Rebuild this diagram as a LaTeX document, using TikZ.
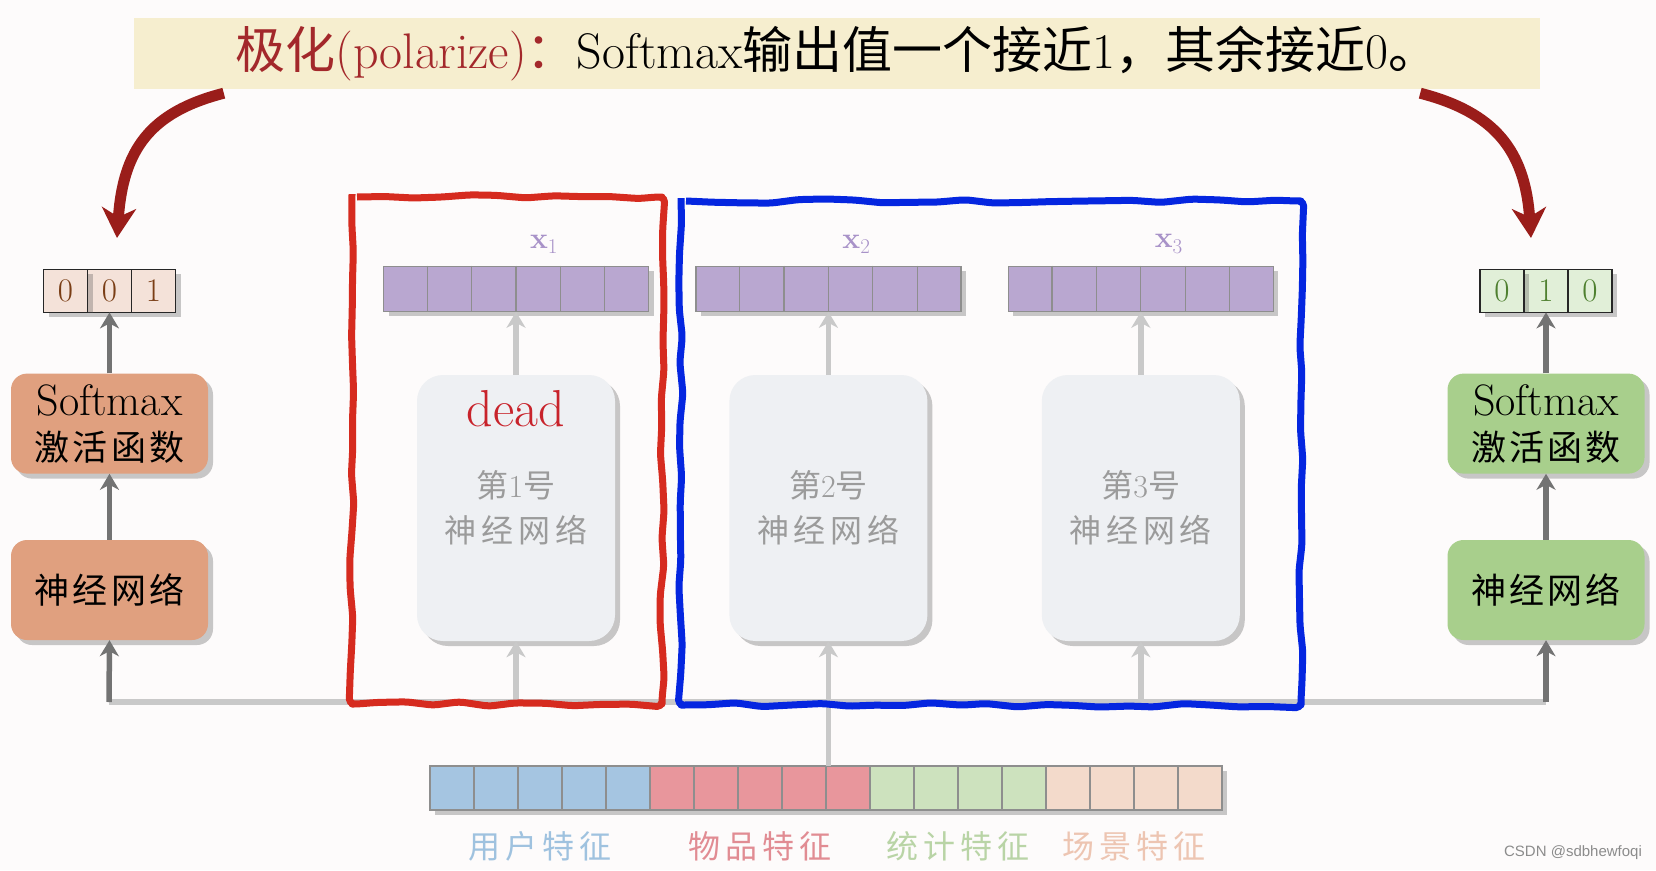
\documentclass[tikz,border=0pt]{standalone}
\usepackage{fontspec}
\usepackage{xcolor}
\usepackage{tikz}
\usetikzlibrary{positioning,arrows.meta,calc,shadows,decorations.pathmorphing}
\newfontfamily\cjk{Noto Sans CJK SC}
\newfontfamily\cjkw[LetterSpace=15]{Noto Sans CJK SC}
\newfontfamily\cjkn[LetterSpace=9]{Noto Sans CJK SC}
\newfontfamily\wmfont{Liberation Sans}
\newcommand\boxcjk{\cjkn\fontsize{35}{45}\selectfont}
\definecolor{pagebg}{HTML}{FDFBFB}
\definecolor{titlebg}{HTML}{F6EECF}
\definecolor{polred}{HTML}{9A1D1A}
\definecolor{titlered}{HTML}{A3282B}
\definecolor{orangec}{HTML}{E0A07F}
\definecolor{greenc}{HTML}{A8CF8C}
\definecolor{peachcell}{HTML}{F4E2D9}
\definecolor{browntext}{HTML}{7A3E16}
\definecolor{greencell}{HTML}{E1EFD8}
\definecolor{greentext}{HTML}{4F8030}
\definecolor{arrdark}{HTML}{737373}
\definecolor{arrlight}{HTML}{C9C9C9}
\definecolor{expfill}{HTML}{EEF0F3}
\definecolor{exptext}{HTML}{9B9B9B}
\definecolor{deadred}{HTML}{C8232B}
\definecolor{purplec}{HTML}{B9A7D0}
\definecolor{xlabc}{HTML}{A892C8}
\definecolor{cellgray}{HTML}{8E8E8E}
\definecolor{handred}{HTML}{D62B1F}
\definecolor{handblue}{HTML}{0526E0}
\definecolor{fuser}{HTML}{A5C5E1}
\definecolor{fitem}{HTML}{E8969C}
\definecolor{fstat}{HTML}{CDE2BE}
\definecolor{fscene}{HTML}{F3DACB}
\definecolor{luser}{HTML}{9FC2DF}
\definecolor{litem}{HTML}{E18C93}
\definecolor{lstat}{HTML}{B9D4A6}
\definecolor{lscene}{HTML}{EDC5B2}

\begin{document}
\begin{tikzpicture}[x=1pt, y=-1pt,
        node distance=66pt and 114pt,
        shade/.style={drop shadow={shadow xshift=5pt, shadow yshift=-5pt, opacity=0.3, fill=black!70}},
        titlebox/.style={fill=titlebg, minimum width=1406pt, minimum height=71pt, inner sep=0pt, font=\fontsize{50}{54}\selectfont},
        softbox/.style={rounded corners=16pt, minimum width=197pt, minimum height=100pt, inner sep=0pt, align=center, font=\fontsize{44}{45}\selectfont, shade},
        orangebox/.style={softbox, fill=orangec},
        greenbox/.style={softbox, fill=greenc},
        expert/.style={rounded corners=26pt, fill=expfill, minimum width=198pt, minimum height=266pt, inner sep=0pt, align=center, text=exptext, font=\fontsize{32}{45}\selectfont, shade},
        vecbox/.style={draw=cellgray, line width=1.2pt, fill=purplec, minimum width=265pt, minimum height=45pt, inner sep=0pt, shade},
        xlab/.style={text=xlabc, font=\fontsize{30}{30}\selectfont, inner sep=0pt},
        outcell/.style={draw=black!85, line width=1.5pt, minimum width=44pt, minimum height=43pt, inner sep=0pt, outer sep=0pt, font=\fontsize{33}{33}\selectfont, shade},
        outL/.style={outcell, fill=peachcell, text=browntext},
        outR/.style={outcell, fill=greencell, text=greentext},
        featbox/.style={draw=cellgray, line width=1.2pt, minimum height=44pt, inner sep=0pt, outer sep=0pt, shade},
        featlab/.style={font=\cjkw\fontsize{32}{32}\selectfont},
        cellline/.style={draw=cellgray, line width=1.2pt},
        darr/.style={draw=arrdark, line width=5.5pt, -{Stealth[length=16pt, width=19pt, inset=5pt]}},
        larr/.style={draw=arrlight, line width=5.5pt, -{Stealth[length=16pt, width=19pt, inset=5pt]}},
        bus/.style={draw=arrlight, line width=5.5pt},
        polarr/.style={draw=polred, line width=11pt, -{Stealth[length=30pt, width=34pt, inset=9pt]}},
        handbox/.style={line width=7pt, line join=round, decorate, decoration={random steps, segment length=28pt, amplitude=2.2pt}, rounded corners=5pt},
    ]
        \useasboundingbox (0,0) rectangle (1656,870);
        \fill[pagebg] (0,0) rectangle (1656,870);
        \pgfmathsetseed{7}

        \node[titlebox] (title) at (837,53.5) {\textcolor{titlered}{{\cjk 极化}(polarize){\cjk ：}}Softmax{\cjk 输出值一个接近}1{\cjk ，其余接近}0{\cjk 。}};

        \coordinate (lpol) at (117,238);
        \coordinate (rpol) at (1531,238);
        \draw[polarr] ($(title.south west)+(90,4)$) .. controls +(-74,19) and +(6,-88) .. (lpol);
        \draw[polarr] ($(title.south east)+(-120,4)$) .. controls +(74,19) and +(-6,-88) .. (rpol);

        \coordinate (busL) at (109,702);
        \coordinate (busR) at (1546,702);
        \draw[bus] (busL) -- (busR);

        \node[orangebox] (lnn) at (109.5,590) {{\boxcjk 神经网络}};
        \node[orangebox, above=of lnn] (lsm) {Softmax\\{\boxcjk 激活函数}};
        \node[outL, above=61pt of lsm] (l2) {0};
        \node[outL, left=0pt of l2] (l1) {0};
        \node[outL, right=0pt of l2] (l3) {1};

        \node[greenbox] (rnn) at (1546,590) {{\boxcjk 神经网络}};
        \node[greenbox, above=of rnn] (rsm) {Softmax\\{\boxcjk 激活函数}};
        \node[outR, above=61pt of rsm] (r2) {1};
        \node[outR, left=0pt of r2] (r1) {0};
        \node[outR, right=0pt of r2] (r3) {0};

        \draw[darr] (busL) -- (lnn.south);
        \draw[darr] (lnn) -- (lsm);
        \draw[darr] (lsm) -- (l2);
        \draw[darr] (busR) -- (rnn.south);
        \draw[darr] (rnn) -- (rsm);
        \draw[darr] (rsm) -- (r2);

        \node[expert] (e1) at (516,508) {{\cjkw 第}1{\cjkw 号}\\{\cjkw 神经网络}};
        \node[expert, right=of e1] (e2) {{\cjkw 第}2{\cjkw 号}\\{\cjkw 神经网络}};
        \node[expert, right=of e2] (e3) {{\cjkw 第}3{\cjkw 号}\\{\cjkw 神经网络}};
        \node[text=deadred, font=\fontsize{52}{52}\selectfont] (dead) at ([yshift=-34pt]e1.north) {dead};

        \node[vecbox, above=63pt of e1] (v1) {};
        \node[vecbox, above=63pt of e2] (v2) {};
        \node[vecbox, above=63pt of e3] (v3) {};
        \foreach \v in {v1,v2,v3}
            \foreach \i in {1,...,5}
                \draw[cellline] ($(\v.north west)!\i/6!(\v.north east)$) -- ($(\v.south west)!\i/6!(\v.south east)$);
        \node[xlab, above=12pt of v1, xshift=28pt] (x1) {\textbf{x}\textsubscript{1}};
        \node[xlab, above=12pt of v2, xshift=28pt] (x2) {\textbf{x}\textsubscript{2}};
        \node[xlab, above=12pt of v3, xshift=28pt] (x3) {\textbf{x}\textsubscript{3}};

        \foreach \e/\v in {e1/v1,e2/v2,e3/v3}{
            \draw[larr] (\e.north) -- (\v.south);
        }
        \draw[larr] (e1.south |- busL) -- (e1.south);
        \draw[larr] (e3.south |- busL) -- (e3.south);

        \node[featbox, fill=fuser, minimum width=220pt] (fu) at (540,788) {};
        \node[featbox, fill=fitem, minimum width=220pt, right=0pt of fu] (fi) {};
        \node[featbox, fill=fstat, minimum width=176pt, right=0pt of fi] (fs) {};
        \node[featbox, fill=fscene, minimum width=176pt, right=0pt of fs] (fc) {};
        \foreach \g/\n in {fu/5,fi/5,fs/4,fc/4}{
            \pgfmathtruncatemacro\m{\n-1}
            \foreach \i in {1,...,\m}
                \draw[cellline] ($(\g.north west)!\i/\n!(\g.north east)$) -- ($(\g.south west)!\i/\n!(\g.south east)$);
        }
        \draw[larr] (e2.south |- fi.north) -- (e2.south);

        \node[featlab, text=luser, below=18pt of fu] (lu) {用户特征};
        \node[featlab, text=litem, below=18pt of fi] (li) {物品特征};
        \node[featlab, text=lstat, below=18pt of fs] (ls) {统计特征};
        \node[featlab, text=lscene, below=18pt of fc] (lc) {场景特征};

        \draw[handbox, draw=handred] (352,197) -- (662,197) -- (662,704) -- (352,704) -- cycle;
        \draw[handbox, draw=handblue] (681,201) -- (1301,201) -- (1301,705) -- (681,705) -- cycle;

        \node[text=black!45, font=\wmfont\fontsize{15}{15}\selectfont] (wm) at (1573,853) {CSDN @sdbhewfoqi};
    \end{tikzpicture}
\end{document}
